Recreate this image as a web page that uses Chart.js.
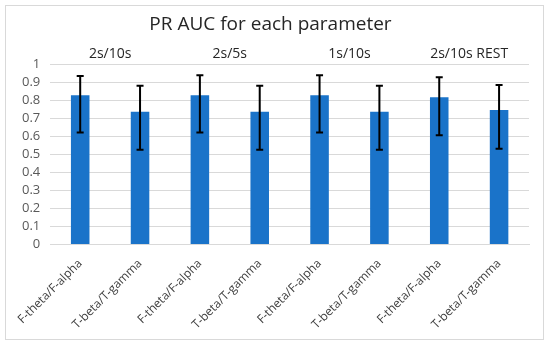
<!DOCTYPE html>
<html>
<head>
<meta charset="utf-8">
<script src="https://cdn.jsdelivr.net/npm/chart.js@4"></script>
<style>
  html, body { margin: 0; padding: 0; background: #fff; }
  #wrap { width: 550px; height: 346px; position: relative; }
</style>
</head>
<body>
<div id="wrap"><canvas id="prauc" width="550" height="346"></canvas></div>
<script>
const categories = ['F-theta/F-alpha', 'T-beta/T-gamma', 'F-theta/F-alpha', 'T-beta/T-gamma',
                    'F-theta/F-alpha', 'T-beta/T-gamma', 'F-theta/F-alpha', 'T-beta/T-gamma'];
const groups = ['2s/10s', '2s/5s', '1s/10s', '2s/10s REST'];
const aucMean = [0.83, 0.738, 0.83, 0.738, 0.83, 0.738, 0.819, 0.747];
const aucUpper = [0.937, 0.882, 0.941, 0.882, 0.941, 0.882, 0.930, 0.886];
const aucLower = [0.623, 0.526, 0.623, 0.526, 0.623, 0.526, 0.607, 0.532];

const fontFam = '"Open Sans", "Liberation Sans", sans-serif';

// error bars drawn on top of the bars, using the y scale
const errorBars = {
    id: 'errorBars',
    afterDatasetsDraw(chart) {
        const c = chart.ctx;
        const y = chart.scales.y;
        const meta = chart.getDatasetMeta(0);
        c.save();
        c.strokeStyle = '#000';
        c.lineWidth = 2;
        meta.data.forEach((bar, i) => {
            const top = y.getPixelForValue(aucUpper[i]);
            const bot = y.getPixelForValue(aucLower[i]);
            c.beginPath();
            c.moveTo(bar.x, top); c.lineTo(bar.x, bot);
            c.moveTo(bar.x - 3.5, top); c.lineTo(bar.x + 3.5, top);
            c.moveTo(bar.x - 3.5, bot); c.lineTo(bar.x + 3.5, bot);
            c.stroke();
        });
        c.restore();
    }
};

// light frame round the whole chart
const frame = {
    id: 'frame',
    beforeDraw(chart) {
        const c = chart.ctx;
        c.save();
        c.strokeStyle = '#d9d9d9';
        c.lineWidth = 1;
        c.strokeRect(5.5, 5.5, 538, 334);
        c.restore();
    }
};

const ctx = document.getElementById('prauc').getContext('2d');

const chart = new Chart(ctx, {
    type: 'bar',
    data: {
        labels: categories,
        datasets: [{
            label: 'PR AUC',
            data: aucMean,
            backgroundColor: '#1a73c9',
            borderWidth: 0,
            barPercentage: 1,
            categoryPercentage: 0.31
        }]
    },
    options: {
        responsive: false,
        animation: false,
        layout: { padding: { left: 12, right: 21, top: 0, bottom: 10 } },
        scales: {
            x: {
                grid: { display: false },
                border: { color: '#d9d9d9' },
                ticks: {
                    minRotation: 45, maxRotation: 45,
                    color: '#404040',
                    font: { family: fontFam, size: 12 },
                    padding: 4
                }
            },
            x2: {
                type: 'category',
                position: 'top',
                labels: groups,
                grid: { display: false, drawTicks: false },
                border: { display: false },
                ticks: {
                    color: '#262626',
                    font: { family: fontFam, size: 14 },
                    padding: 2
                }
            },
            y: {
                min: 0,
                max: 1,
                ticks: {
                    stepSize: 0.1,
                    autoSkip: false,
                    color: '#595959',
                    font: { family: fontFam, size: 13 },
                    padding: 10,
                    callback: v => String(Math.round(v * 10) / 10)
                },
                grid: { color: '#d9d9d9', drawTicks: false },
                border: { display: false }
            }
        },
        plugins: {
            legend: { display: false },
            tooltip: { enabled: false },
            title: {
                display: true,
                text: 'PR AUC for each parameter',
                color: '#262626',
                font: { family: fontFam, size: 19, weight: 'normal' },
                padding: { top: 13, bottom: 8 }
            }
        }
    },
    plugins: [errorBars, frame]
});
</script>
</body>
</html>
